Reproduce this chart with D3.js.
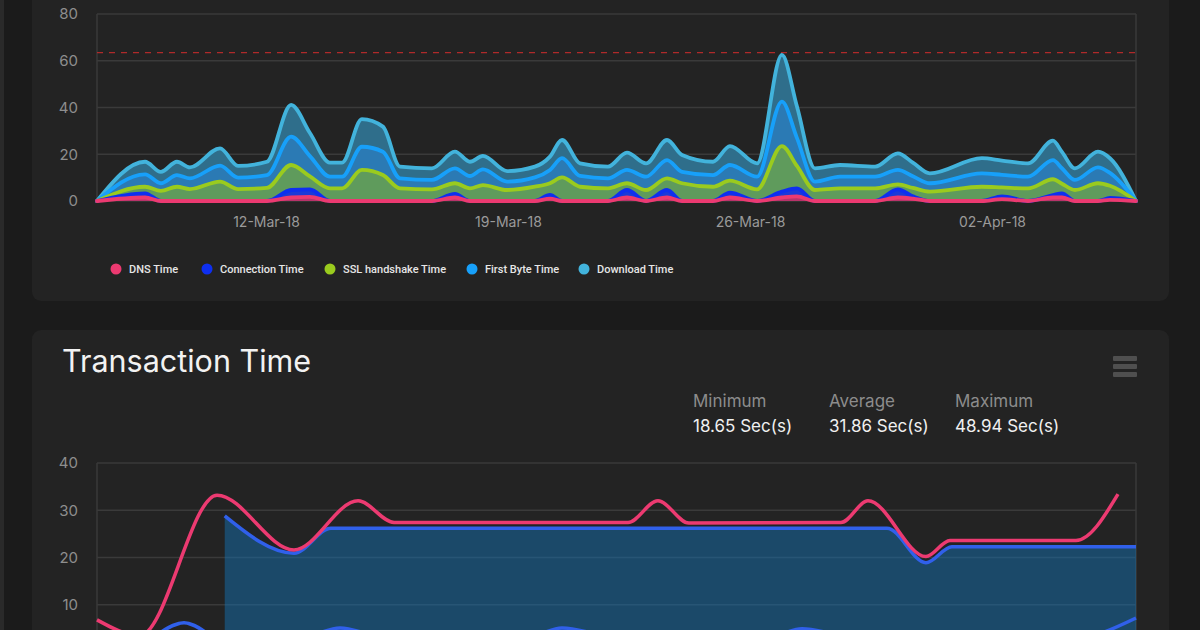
<!DOCTYPE html>
<html>
<head>
<meta charset="utf-8">
<script src="https://cdnjs.cloudflare.com/ajax/libs/d3/7.8.5/d3.min.js"></script>
<style>
  html, body { margin: 0; padding: 0; background: #1b1b1b; }
  svg { display: block; font-family: Inter, "Noto Sans", sans-serif; }
</style>
</head>
<body>
<svg id="chart" width="1200" height="630"></svg>
<script>
// ---- response time (stacked) ----
var times = [
  "2018-03-07T02:40", "2018-03-08T12:00", "2018-03-08T23:00", "2018-03-09T10:10",
  "2018-03-09T19:10", "2018-03-10T16:05", "2018-03-11T04:35", "2018-03-12T00:40",
  "2018-03-12T17:25", "2018-03-13T06:30", "2018-03-13T20:25", "2018-03-14T04:50",
  "2018-03-14T18:35", "2018-03-15T09:10", "2018-03-15T21:00", "2018-03-16T19:10",
  "2018-03-17T11:10", "2018-03-17T21:35", "2018-03-18T06:35", "2018-03-18T23:20",
  "2018-03-19T18:40", "2018-03-20T05:10", "2018-03-20T13:30", "2018-03-21T02:00",
  "2018-03-21T21:25", "2018-03-22T10:35", "2018-03-22T23:50", "2018-03-23T14:25",
  "2018-03-24T00:50", "2018-03-24T22:20", "2018-03-25T10:05", "2018-03-26T04:55",
  "2018-03-26T22:10", "2018-03-27T08:35", "2018-03-27T21:05", "2018-03-28T14:30",
  "2018-03-29T14:50", "2018-03-30T06:40", "2018-03-30T17:05", "2018-03-31T04:55",
  "2018-04-01T17:00", "2018-04-02T06:55", "2018-04-03T01:00", "2018-04-03T18:20",
  "2018-04-04T00:35", "2018-04-04T09:35", "2018-04-05T01:35", "2018-04-05T09:55",
  "2018-04-06T04:00"
];
var dnsTime = [0, 1.5, 0, 0, 0, 0, 0, 0, 1.5, 1.8, 0, 0, 0, 0, 0, 0, 1.5, 0, 0, 0, 0, 1.0, 0, 0,
  0, 1.5, 0, 1.5, 0, 0, 1.5, 0, 1.5, 2.0, 0, 0, 0, 1.5, 1.0, 0, 0, 0.8, 0, 1.5, 1.5, 0, 0, 0.5, 0];
var connectionTime = [0, 1.8, 0, 0, 0, 0, 0, 0, 3.2, 3.2, 0, 0, 0, 0, 0, 0, 1.5, 0, 0, 0, 0, 1.6, 0, 0,
  0, 3.2, 0, 3.2, 0, 0, 2.1, 0, 2.5, 3.4, 0, 0, 0, 3.5, 1.0, 0, 0, 1.2, 0, 1.0, 1.8, 0, 0, 0.8, 0];
var sslTime = [0, 2.8, 4.3, 6.1, 5.1, 8.3, 5.1, 5.6, 10.7, 5.5, 5.4, 5.4, 13.3, 11.1, 5.4, 5.0, 4.6, 5.4,
  6.8, 4.7, 6.1, 5.0, 10.1, 6.1, 5.4, 2.9, 4.7, 5.0, 7.6, 6.1, 5.1, 5.0, 19.5, 9.6, 4.7, 5.4, 5.4,
  2.1, 3.6, 4.0, 6.1, 3.8, 5.4, 6.8, 4.1, 4.7, 7.6, 5.2, 0];
var firstByteTime = [0, 5.3, 3.3, 5.0, 4.6, 6.8, 4.9, 5.5, 12.1, 8.7, 5.0, 5.0, 9.9, 10.0, 4.3, 4.0, 6.4,
  5.3, 6.7, 3.6, 4.0, 5.7, 8.2, 4.6, 4.3, 5.7, 5.7, 7.8, 4.9, 5.0, 6.7, 5.4, 19.0, 12.0, 3.6, 5.0,
  5.0, 6.2, 5.0, 3.6, 5.7, 5.4, 5.0, 8.2, 6.6, 4.3, 6.8, 5.5, 0];
var downloadTime = [0, 5.4, 4.9, 5.7, 4.7, 7.4, 5.0, 5.7, 13.6, 9.9, 6.0, 6.0, 11.8, 10.7, 5.0, 5.0, 7.1,
  6.1, 5.8, 4.5, 4.6, 5.7, 7.8, 5.4, 5.0, 7.4, 5.7, 8.6, 7.2, 5.7, 8.1, 5.7, 20.0, 13.5, 5.7, 5.0,
  4.3, 7.1, 5.8, 4.2, 6.5, 6.1, 5.7, 8.3, 7.0, 5.0, 6.7, 6.3, 0];
var threshold = 63.5;

var seriesNames = ["DNS Time", "Connection Time", "SSL handshake Time", "First Byte Time", "Download Time"];
var seriesKeys = ["dns", "conn", "ssl", "fb", "dl"];
var lineColors = ["#ec3a71", "#0e2ff0", "#9acb1e", "#17a0fa", "#42b3dc"];
var fillColors = ["#b8336a", "#1b3ad8", "#5f9b5c", "#2b7ab4", "#2f6e8b"];
var topTicks = [0, 20, 40, 60, 80];

// ---- transaction time ----
var trxTimes = ["2018-03-07T02:40", "2018-03-08T08:30", "2018-03-10T14:00", "2018-03-12T19:25",
  "2018-03-14T15:55", "2018-03-15T16:55", "2018-03-22T11:20", "2018-03-23T08:05",
  "2018-03-24T05:35", "2018-03-28T15:10", "2018-03-29T09:55", "2018-03-31T02:10",
  "2018-03-31T18:50", "2018-04-04T10:20", "2018-04-05T15:30"];
var trxValues = [6.8, 3.5, 33.2, 21.6, 32.0, 27.4, 27.4, 32.0, 27.3, 27.4, 32.0, 20.2, 23.6, 23.6, 33.4];

var stepTimes = ["2018-03-10T19:20", "2018-03-12T19:25", "2018-03-13T21:05", "2018-03-29T23:05",
  "2018-03-31T02:10", "2018-03-31T20:10", "2018-04-06T04:00"];
var stepValues = [28.8, 20.9, 26.2, 26.2, 18.9, 22.3, 22.3];

var lowTimes = ["2018-03-07T02:40", "2018-03-08T08:30", "2018-03-09T15:05", "2018-03-10T19:20",
  "2018-03-12T19:25", "2018-03-14T03:25", "2018-03-15T16:55", "2018-03-19T08:20",
  "2018-03-20T13:30", "2018-03-22T11:20", "2018-03-26T06:55", "2018-03-27T12:05",
  "2018-03-29T09:55", "2018-03-31T02:10", "2018-04-04T10:20", "2018-04-06T04:00"];
var lowValues = [3.0, 2.5, 6.2, 2.5, 2.5, 5.1, 2.5, 2.5, 5.1, 2.5, 2.5, 4.9, 2.5, 2.5, 3.0, 7.2];
var bottomTicks = [10, 20, 30, 40];

var statLabels = ["Minimum", "Average", "Maximum"];
var statValues = ["18.65 Sec(s)", "31.86 Sec(s)", "48.94 Sec(s)"];

var parse = d3.timeParse("%Y-%m-%dT%H:%M");
var svg = d3.select("#chart");

// page + cards
svg.append("rect").attr("width", 1200).attr("height", 630).attr("fill", "#1b1b1b");
svg.append("rect").attr("x", 0).attr("width", 4).attr("height", 630).attr("fill", "#2a2a2a");
svg.append("rect").attr("x", 32).attr("y", -20).attr("width", 1137).attr("height", 321)
  .attr("rx", 9).attr("fill", "#232323");
svg.append("rect").attr("x", 32).attr("y", 330).attr("width", 1137).attr("height", 330)
  .attr("rx", 9).attr("fill", "#232323");

var left = 97, right = 1136;
var x = d3.scaleTime()
  .domain([parse(times[0]), parse(times[times.length - 1])])
  .range([left, right]);

// ---------- top chart ----------
var yTop = d3.scaleLinear().domain([0, 80]).range([201, 14]);

var topG = svg.append("g");
topG.selectAll(".grid").data(topTicks).enter().append("line")
  .attr("x1", left).attr("x2", right)
  .attr("y1", function(d) { return yTop(d); }).attr("y2", function(d) { return yTop(d); })
  .attr("stroke", "#3a3a3a").attr("stroke-width", 1.5);
topG.append("line").attr("x1", left).attr("x2", left).attr("y1", yTop(80)).attr("y2", yTop(0))
  .attr("stroke", "#3a3a3a").attr("stroke-width", 1.5);
topG.append("line").attr("x1", right).attr("x2", right).attr("y1", yTop(80)).attr("y2", yTop(0))
  .attr("stroke", "#3a3a3a").attr("stroke-width", 1.5);

topG.selectAll(".ylab").data(topTicks).enter().append("text")
  .attr("x", 78).attr("y", function(d) { return yTop(d); }).attr("dy", "0.35em")
  .attr("text-anchor", "end").attr("fill", "#8e8e8e").attr("font-size", 15)
  .text(function(d) { return d; });

var xAxis = topG.append("g").attr("transform", "translate(0,211)")
  .call(d3.axisBottom(x).tickValues(d3.timeMonday.range(parse("2018-03-12T00:00"), parse("2018-04-03T00:00")))
    .tickFormat(d3.timeFormat("%d-%b-%y")).tickSize(0));
xAxis.select(".domain").remove();
xAxis.selectAll("text").attr("fill", "#9a9a9a").attr("font-size", 14)
  .attr("font-family", "Inter, 'Noto Sans', sans-serif").attr("dy", "0.9em");

var rows = times.map(function(t, i) {
  return {
    date: parse(t), dns: dnsTime[i], conn: connectionTime[i], ssl: sslTime[i],
    fb: firstByteTime[i], dl: downloadTime[i]
  };
});
var stacked = d3.stack().keys(seriesKeys)(rows);

var area = d3.area().curve(d3.curveMonotoneX)
  .x(function(d) { return x(d.data.date); })
  .y0(function(d) { return yTop(d[0]); })
  .y1(function(d) { return yTop(d[1]); });
var line = d3.line().curve(d3.curveMonotoneX)
  .x(function(d) { return x(d.data.date); })
  .y(function(d) { return yTop(d[1]); });

topG.selectAll(".area").data(stacked).enter().append("path")
  .attr("d", area).attr("fill", function(d, i) { return fillColors[i]; });

topG.append("line").attr("x1", left).attr("x2", right)
  .attr("y1", yTop(threshold)).attr("y2", yTop(threshold))
  .attr("stroke", "#b02a2a").attr("stroke-width", 1.2).attr("stroke-dasharray", "6,6");

topG.selectAll(".sline").data(stacked.slice().reverse()).enter().append("path")
  .attr("d", line).attr("fill", "none")
  .attr("stroke", function(d) { return lineColors[d.index]; })
  .attr("stroke-width", 3.8)
  .attr("stroke-linejoin", "round").attr("stroke-linecap", "round");

// legend
var legendX = [116, 207, 330, 472, 584];
var legend = svg.append("g").selectAll("g").data(seriesNames).enter().append("g")
  .attr("transform", function(d, i) { return "translate(" + legendX[i] + ",269)"; });
legend.append("circle").attr("r", 5.5).attr("fill", function(d, i) { return lineColors[i]; });
legend.append("text").attr("x", 13).attr("dy", "0.35em").attr("fill", "#e6e6e6")
  .attr("font-size", 11).attr("font-weight", 500).attr("font-family", "Roboto, sans-serif")
  .text(function(d) { return d; });

// ---------- bottom card header ----------
svg.append("text").attr("x", 62).attr("y", 372).attr("fill", "#f2f2f2")
  .attr("font-size", 30.5).text("Transaction Time");

var menu = svg.append("g");
[0, 1, 2].forEach(function(i) {
  menu.append("rect").attr("x", 1113).attr("y", 356 + i * 8).attr("width", 24).attr("height", 5)
    .attr("rx", 1).attr("fill", "#4f4f4f");
});

var statX = [693, 829, 955];
statLabels.forEach(function(s, i) {
  svg.append("text").attr("x", statX[i]).attr("y", 407).attr("fill", "#8c8c8c")
    .attr("font-size", 17).text(s);
  svg.append("text").attr("x", statX[i]).attr("y", 432).attr("fill", "#f0f0f0")
    .attr("font-size", 17).text(statValues[i]);
});

// ---------- bottom chart ----------
var yBot = d3.scaleLinear().domain([0, 40]).range([652, 463]);
var botG = svg.append("g");

botG.selectAll(".grid").data(bottomTicks).enter().append("line")
  .attr("x1", left).attr("x2", right)
  .attr("y1", function(d) { return yBot(d); }).attr("y2", function(d) { return yBot(d); })
  .attr("stroke", "#3a3a3a").attr("stroke-width", 1.5);
botG.append("line").attr("x1", left).attr("x2", left).attr("y1", yBot(40)).attr("y2", 630)
  .attr("stroke", "#3a3a3a").attr("stroke-width", 1.5);
botG.append("line").attr("x1", right).attr("x2", right).attr("y1", yBot(40)).attr("y2", 630)
  .attr("stroke", "#3a3a3a").attr("stroke-width", 1.5);
botG.selectAll(".ylab").data(bottomTicks).enter().append("text")
  .attr("x", 78).attr("y", function(d) { return yBot(d); }).attr("dy", "0.35em")
  .attr("text-anchor", "end").attr("fill", "#8e8e8e").attr("font-size", 15)
  .text(function(d) { return d; });

var stepData = stepTimes.map(function(t, i) { return { date: parse(t), v: stepValues[i] }; });
var trxData = trxTimes.map(function(t, i) { return { date: parse(t), v: trxValues[i] }; });
var lowData = lowTimes.map(function(t, i) { return { date: parse(t), v: lowValues[i] }; });

var bArea = d3.area().curve(d3.curveMonotoneX)
  .x(function(d) { return x(d.date); })
  .y0(yBot(0)).y1(function(d) { return yBot(d.v); });
var bLine = d3.line().curve(d3.curveMonotoneX)
  .x(function(d) { return x(d.date); })
  .y(function(d) { return yBot(d.v); });

botG.append("path").datum(stepData).attr("d", bArea)
  .attr("fill", "#1470b0").attr("fill-opacity", 0.5);
botG.append("path").datum(stepData).attr("d", bLine).attr("fill", "none")
  .attr("stroke", "#3060ea").attr("stroke-width", 3.5).attr("stroke-linejoin", "round");
botG.append("path").datum(lowData).attr("d", bLine).attr("fill", "none")
  .attr("stroke", "#3060ea").attr("stroke-width", 3.5).attr("stroke-linejoin", "round");
botG.append("path").datum(trxData).attr("d", bLine).attr("fill", "none")
  .attr("stroke", "#ec3a71").attr("stroke-width", 3.5).attr("stroke-linejoin", "round");
</script>
</body>
</html>
